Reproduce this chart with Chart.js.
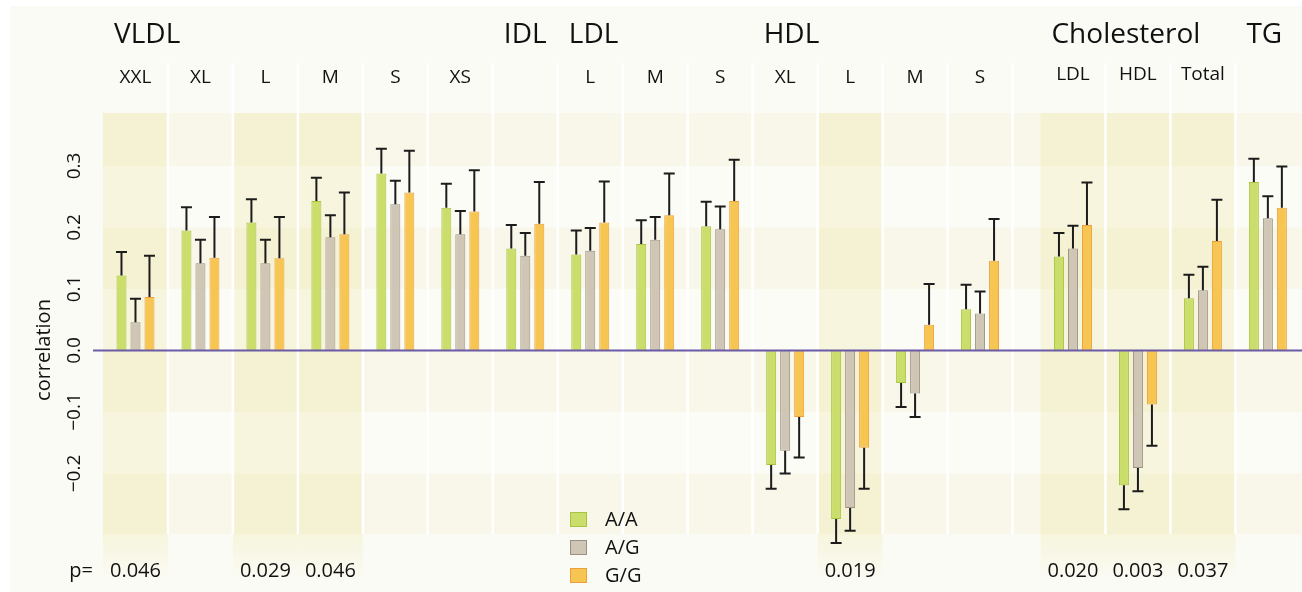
<!DOCTYPE html>
<html>
<head>
<meta charset="utf-8">
<script src="https://cdn.jsdelivr.net/npm/chart.js@4.4.1/dist/chart.umd.min.js"></script>
<style>
html, body { margin: 0; padding: 0; background: #fff; }
#wrap { width: 1302px; height: 592px; }
</style>
</head>
<body>
<div id="wrap"><canvas id="chart" width="1302" height="592"></canvas></div>
<script>
// group headers and the column they start at
const groups = ['VLDL', 'IDL', 'LDL', 'HDL', 'Cholesterol', 'TG']
const groupStart = [0, 6, 7, 10, 14, 17]
const subLabels = ['XXL', 'XL', 'L', 'M', 'S', 'XS', '', 'L', 'M', 'S', 'XL', 'L', 'M', 'S', 'LDL', 'HDL', 'Total', '']
const genotypes = ['A/A', 'A/G', 'G/G']

const valuesAA = [0.122, 0.195, 0.208, 0.243, 0.288, 0.232, 0.166, 0.156, 0.173, 0.202, -0.186, -0.274, -0.053, 0.067, 0.153, -0.219, 0.085, 0.274]
const valuesAG = [0.046, 0.142, 0.142, 0.184, 0.238, 0.189, 0.154, 0.162, 0.180, 0.197, -0.163, -0.256, -0.070, 0.060, 0.166, -0.191, 0.098, 0.215]
const valuesGG = [0.087, 0.151, 0.150, 0.189, 0.257, 0.226, 0.206, 0.208, 0.220, 0.243, -0.108, -0.158, 0.042, 0.146, 0.204, -0.088, 0.178, 0.232]
const errAA = [0.038, 0.038, 0.038, 0.038, 0.040, 0.039, 0.038, 0.039, 0.039, 0.040, 0.039, 0.039, 0.039, 0.040, 0.038, 0.039, 0.038, 0.038]
const errAG = [0.038, 0.038, 0.038, 0.036, 0.038, 0.038, 0.037, 0.037, 0.037, 0.037, 0.037, 0.037, 0.038, 0.036, 0.037, 0.038, 0.038, 0.036]
const errGG = [0.067, 0.066, 0.067, 0.068, 0.068, 0.067, 0.068, 0.067, 0.068, 0.067, 0.066, 0.067, 0.066, 0.068, 0.069, 0.067, 0.067, 0.067]

const pValues = ['0.046', '', '0.029', '0.046', '', '', '', '', '', '', '', '0.019', '', '', '0.020', '0.003', '0.037', '']
const yTicks = [-0.2, -0.1, 0, 0.1, 0.2, 0.3]

const FONT = "'Open Sans', 'Noto Sans', sans-serif"
const GAP = 0.43   // extra space before the cholesterol block
const xPos = subLabels.map((_, i) => i + (i >= 14 ? GAP : 0))
const highlight = pValues.map(p => p !== '')

const fills = ['#cbdd6b', '#cfc6b5', '#f6c552']
const borders = ['#a5c53f', '#9a9182', '#eda03a']
const allValues = [valuesAA, valuesAG, valuesGG]
const allErrors = [errAA, errAG, errGG]

const backdrop = {
  id: 'backdrop',
  beforeDraw(chart) {
    const { ctx, chartArea: a, scales: { x, y } } = chart
    ctx.save()
    ctx.fillStyle = '#ffffff'
    ctx.fillRect(0, 0, chart.width, chart.height)
    ctx.fillStyle = '#fbfbf6'
    ctx.fillRect(10, 6, chart.width - 10, chart.height - 6)

    // horizontal bands between the ticks
    const edges = [y.max, ...yTicks.slice().reverse(), y.min]
    for (let k = 0; k < edges.length - 1; k++) {
      const t = y.getPixelForValue(edges[k]), b = y.getPixelForValue(edges[k + 1])
      ctx.fillStyle = k % 2 === 0 ? '#f9f7ea' : '#fcfcf7'
      ctx.fillRect(a.left, t, a.right - a.left, b - t)
    }

    // significant columns get a yellow tint
    xPos.forEach((p, i) => {
      if (!highlight[i]) return
      const x0 = x.getPixelForValue(p - 0.5), x1 = x.getPixelForValue(p + 0.5)
      ctx.fillStyle = 'rgba(230, 224, 130, 0.22)'
      ctx.fillRect(x0, a.top, x1 - x0, a.bottom - a.top)
      const g = ctx.createLinearGradient(0, a.bottom, 0, a.bottom + 48)
      g.addColorStop(0, 'rgba(230, 224, 130, 0.22)')
      g.addColorStop(1, 'rgba(230, 224, 130, 0)')
      ctx.fillStyle = g
      ctx.fillRect(x0, a.bottom, x1 - x0, 48)
    })

    // white separators
    ctx.strokeStyle = '#ffffff'
    ctx.lineWidth = 2.5
    for (let i = 0; i < xPos.length - 1; i++) {
      const xx = x.getPixelForValue(xPos[i] + 0.5)
      ctx.beginPath()
      ctx.moveTo(xx, 63)
      ctx.lineTo(xx, a.bottom)
      ctx.stroke()
    }
    ctx.restore()
  }
}

const errorBars = {
  id: 'errorBars',
  afterDatasetsDraw(chart) {
    const { ctx, scales: { y } } = chart
    ctx.save()
    ctx.strokeStyle = '#1c1c1c'
    ctx.lineWidth = 2
    chart.data.datasets.forEach((ds, di) => {
      const meta = chart.getDatasetMeta(di)
      meta.data.forEach((bar, i) => {
        const v = ds.data[i].y, e = allErrors[di][i]
        const end = v >= 0 ? v + e : v - e
        const y0 = y.getPixelForValue(v), y1 = y.getPixelForValue(end)
        ctx.beginPath()
        ctx.moveTo(bar.x, y0)
        ctx.lineTo(bar.x, y1)
        ctx.moveTo(bar.x - 5.5, y1)
        ctx.lineTo(bar.x + 5.5, y1)
        ctx.stroke()
      })
    })
    // zero line
    const y0 = y.getPixelForValue(0)
    ctx.strokeStyle = '#6a5aa8'
    ctx.lineWidth = 2
    ctx.beginPath()
    ctx.moveTo(93, y0)
    ctx.lineTo(chart.width, y0)
    ctx.stroke()
    ctx.restore()
  }
}

const labels = {
  id: 'labels',
  afterDraw(chart) {
    const { ctx, chartArea: a, scales: { x, y } } = chart
    ctx.save()
    ctx.fillStyle = '#111111'
    ctx.textBaseline = 'middle'

    ctx.font = '28px ' + FONT
    ctx.textAlign = 'left'
    groups.forEach((g, i) => {
      ctx.fillText(g, x.getPixelForValue(xPos[groupStart[i]] - 0.5) + 11, 35)
    })

    ctx.font = '19px ' + FONT
    ctx.textAlign = 'center'
    subLabels.forEach((s, i) => {
      ctx.fillText(s, x.getPixelForValue(xPos[i]), i >= 14 ? 75 : 78)
    })

    ctx.font = '20px ' + FONT
    ctx.fillText('p=', 81, 571)
    pValues.forEach((p, i) => {
      if (p) ctx.fillText(p, x.getPixelForValue(xPos[i]), 571)
    })

    // y ticks and title, rotated
    ctx.font = '19px ' + FONT
    yTicks.forEach(t => {
      const txt = (t < 0 ? '\u2212' : '') + Math.abs(t).toFixed(1)
      ctx.save()
      ctx.translate(75, y.getPixelForValue(t))
      ctx.rotate(-Math.PI / 2)
      ctx.fillText(txt, 0, 0)
      ctx.restore()
    })
    ctx.save()
    ctx.translate(44, 350)
    ctx.rotate(-Math.PI / 2)
    ctx.font = '20px ' + FONT
    ctx.fillText('correlation', 0, 0)
    ctx.restore()

    // legend
    ctx.textAlign = 'left'
    ctx.font = '20px ' + FONT
    genotypes.forEach((g, i) => {
      const top = 512 + i * 28
      ctx.fillStyle = fills[i]
      ctx.fillRect(570, top, 17, 15)
      ctx.strokeStyle = borders[i]
      ctx.lineWidth = 1
      ctx.strokeRect(570.5, top + 0.5, 16, 14)
      ctx.fillStyle = '#111111'
      ctx.fillText(g, 605, top + 8)
    })
    ctx.restore()
  }
}

new Chart(document.getElementById('chart'), {
  type: 'bar',
  data: {
    datasets: genotypes.map((g, k) => ({
      label: g,
      data: xPos.map((p, i) => ({ x: p, y: allValues[k][i] })),
      backgroundColor: fills[k],
      borderColor: borders[k],
      borderWidth: 1,
      categoryPercentage: 0.6465,
      barPercentage: 0.714
    }))
  },
  options: {
    responsive: false,
    animation: false,
    layout: { padding: { left: 103, right: 1, top: 113, bottom: 58 } },
    plugins: { legend: { display: false }, tooltip: { enabled: false } },
    scales: {
      x: { type: 'linear', min: -0.5, max: 17.94, offset: false, display: false,
           grid: { offset: false }, ticks: { stepSize: 1, includeBounds: false } },
      y: { min: -0.2984, max: 0.3862, display: false }
    }
  },
  plugins: [backdrop, errorBars, labels]
})
</script>
</body>
</html>
